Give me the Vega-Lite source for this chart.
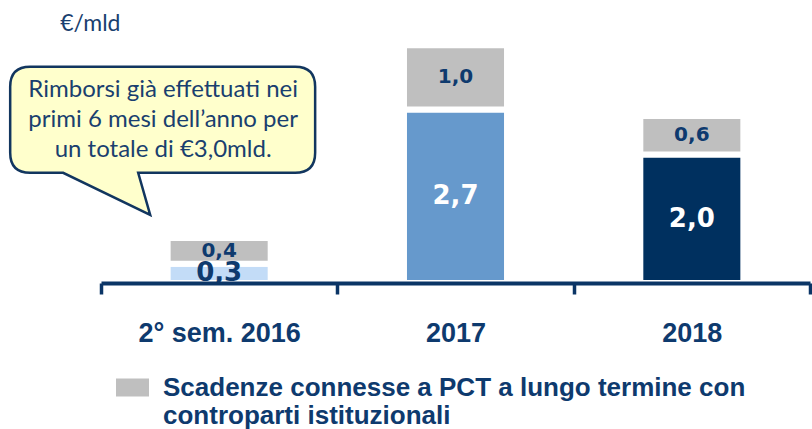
{
  "$schema": "https://vega.github.io/schema/vega-lite/v6.json",
  "autosize": "none",
  "width": 709,
  "height": 257,
  "padding": {"left": 101, "top": 26, "right": 2, "bottom": 146},
  "background": "white",
  "config": {
    "view": {"stroke": null},
    "locale": {"number": {"decimal": ",", "thousands": ".", "grouping": [3], "currency": ["€", ""]}}
  },
  "datasets": {
    "scadenze": [
      {"periodo": "2° sem. 2016", "segmento": "Altre scadenze 2° sem. 2016", "ordine": 1, "valore": 0.3},
      {"periodo": "2° sem. 2016", "segmento": "Scadenze connesse a PCT a lungo termine con controparti istituzionali", "ordine": 2, "valore": 0.4},
      {"periodo": "2017", "segmento": "Altre scadenze 2017", "ordine": 1, "valore": 2.7},
      {"periodo": "2017", "segmento": "Scadenze connesse a PCT a lungo termine con controparti istituzionali", "ordine": 2, "valore": 1.0},
      {"periodo": "2018", "segmento": "Altre scadenze 2018", "ordine": 1, "valore": 2.0},
      {"periodo": "2018", "segmento": "Scadenze connesse a PCT a lungo termine con controparti istituzionali", "ordine": 2, "valore": 0.6}
    ]
  },
  "encoding": {
    "x": {
      "field": "periodo",
      "type": "nominal",
      "sort": ["2° sem. 2016", "2017", "2018"],
      "scale": {"paddingInner": 0, "paddingOuter": 0},
      "axis": {
        "title": null,
        "orient": "bottom",
        "zindex": 1,
        "domainColor": "#0b3566",
        "domainWidth": 4,
        "tickColor": "#0b3566",
        "tickWidth": 3.5,
        "tickSize": 11,
        "tickBand": "extent",
        "labelAngle": 0,
        "labelFont": "Liberation Sans",
        "labelFontWeight": "bold",
        "labelFontSize": 27,
        "labelLimit": 0,
        "labelColor": "#0e3a6e",
        "labelBaseline": "alphabetic",
        "labelPadding": 47
      }
    }
  },
  "layer": [
    {
      "data": {"name": "scadenze"},
      "mark": {"type": "bar", "width": {"band": 0.436}, "stroke": "white", "strokeWidth": 6},
      "encoding": {
        "y": {"field": "valore", "type": "quantitative", "stack": "zero", "scale": {"domain": [0, 4], "nice": false}, "axis": null},
        "order": {"field": "ordine", "type": "quantitative"},
        "color": {
          "field": "segmento",
          "type": "nominal",
          "scale": {
            "domain": ["Altre scadenze 2° sem. 2016", "Altre scadenze 2017", "Altre scadenze 2018", "Scadenze connesse a PCT a lungo termine con controparti istituzionali"],
            "range": ["#c3dcf7", "#6699cc", "#00305f", "#bfbfbf"]
          },
          "legend": {
            "orient": "none",
            "legendX": 15,
            "legendY": 345,
            "padding": 0,
            "title": null,
            "values": ["Scadenze connesse a PCT a lungo termine con controparti istituzionali"],
            "symbolType": "M-1,-0.55H1V0.55H-1Z",
            "symbolSize": 1089,
            "symbolStrokeWidth": 0,
            "symbolOpacity": 1,
            "labelFont": "Liberation Sans",
            "labelFontWeight": "bold",
            "labelFontSize": 26,
            "labelColor": "#0e3a6e",
            "labelOffset": 14,
            "labelLimit": 0,
            "labelBaseline": "middle",
            "labelExpr": "['Scadenze connesse a PCT a lungo termine con', 'controparti istituzionali']"
          }
        }
      }
    },
    {
      "data": {"name": "scadenze"},
      "mark": {"type": "text", "font": "DejaVu Sans", "fontWeight": "bold", "baseline": "middle", "align": "center"},
      "encoding": {
        "y": {"field": "valore", "type": "quantitative", "stack": "zero", "bandPosition": 0.5},
        "detail": {"field": "segmento"},
        "order": {"field": "ordine", "type": "quantitative"},
        "text": {"field": "valore", "type": "quantitative", "format": ".1f"},
        "color": {
          "condition": {"test": "datum.ordine === 2 || datum.periodo === '2° sem. 2016'", "value": "#0e3a6e"},
          "value": "white"
        },
        "size": {"condition": {"test": "datum.ordine === 2", "value": 20}, "value": 26}
      }
    },
    {
      "data": {"values": [{"nota": "callout"}]},
      "mark": {
        "type": "point",
        "shape": "M-0.828,-0.331L0.828,-0.331Q0.953,-0.331 0.953,-0.206L0.953,0.206Q0.953,0.331 0.828,0.331L-0.153,0.331L-0.078,0.594L-0.622,0.331L-0.828,0.331Q-0.953,0.331 -0.953,0.206L-0.953,-0.206Q-0.953,-0.331 -0.828,-0.331Z",
        "size": 102400,
        "filled": true,
        "fill": "#ffffcc",
        "stroke": "#12365f",
        "strokeWidth": 2.5,
        "opacity": 1,
        "xOffset": -56.5
      },
      "encoding": {
        "x": {"datum": "2° sem. 2016"},
        "y": {"datum": 2.54}
      }
    },
    {
      "data": {"values": [{"nota": ["Rimborsi già effettuati nei", "primi 6 mesi dell’anno per", "un totale di €3,0mld."]}]},
      "mark": {"type": "text", "font": "Lato", "fontSize": 24, "lineHeight": 30, "color": "#1a3f6f", "align": "center", "baseline": "middle", "xOffset": -56, "dy": -30},
      "encoding": {
        "x": {"datum": "2° sem. 2016"},
        "y": {"datum": 2.54},
        "text": {"field": "nota"}
      }
    },
    {
      "data": {"values": [{"unita": "€/mld"}]},
      "mark": {"type": "text", "font": "Lato", "fontSize": 23, "color": "#1a3f6f", "align": "left", "baseline": "alphabetic", "xOffset": -159},
      "encoding": {
        "x": {"datum": "2° sem. 2016"},
        "y": {"datum": 3.92},
        "text": {"field": "unita"}
      }
    }
  ]
}
